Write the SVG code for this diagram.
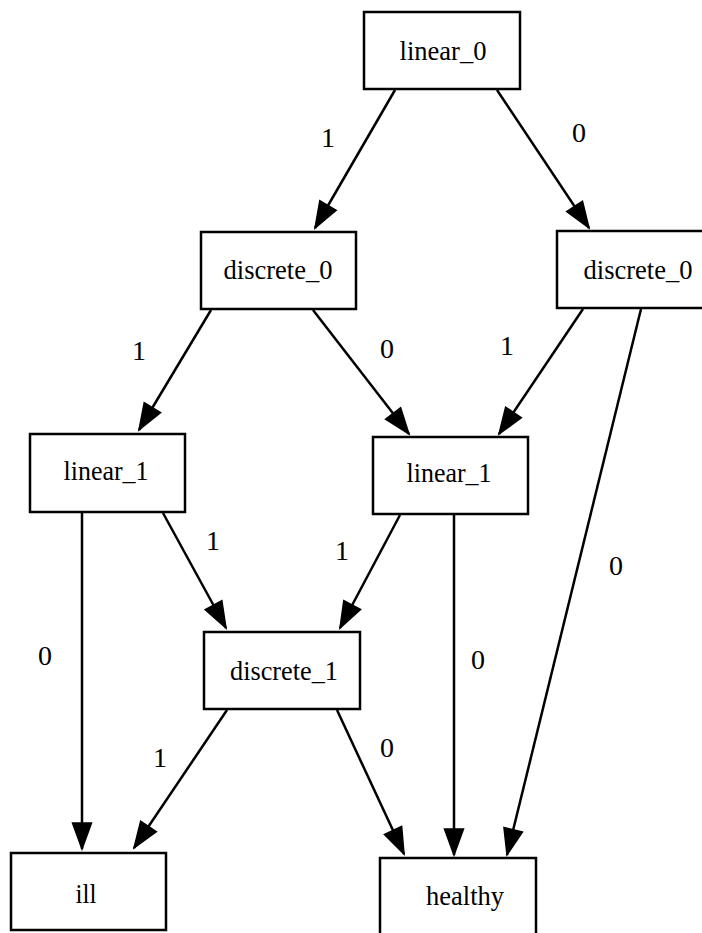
<svg xmlns="http://www.w3.org/2000/svg" width="702" height="933" viewBox="0 0 702 933">
  <style>
    .node rect { fill: #ffffff; stroke: #000000; stroke-width: 2.5; }
    text { font-family: 'Liberation Serif', 'DejaVu Serif', 'Times New Roman', serif; font-size: 28px; text-anchor: middle; fill: #000000; }
    .edge line { stroke: #000000; stroke-width: 2.5; marker-end: url(#arrow); }
  </style>
  <defs>
    <marker id="arrow" markerUnits="userSpaceOnUse" markerWidth="30" markerHeight="22" refX="26" refY="9.5" orient="auto" overflow="visible">
      <path d="M0,0 L26,9.5 L0,19 Z" fill="#000000" stroke="#000000" stroke-width="1.5"/>
    </marker>
  </defs>
  <rect x="0" y="0" width="702" height="933" fill="#ffffff"/>

  <!-- connectors -->
  <g id="edges" class="edge">
    <line x1="395" y1="90" x2="315" y2="228"/>
    <text x="328" y="147" font-family="Liberation Serif, serif">1</text>

    <line x1="497" y1="90" x2="589" y2="228"/>
    <text x="579" y="142" font-family="Liberation Serif, serif">0</text>

    <line x1="211" y1="310" x2="139" y2="430"/>
    <text x="139" y="360" font-family="Liberation Serif, serif">1</text>

    <line x1="313" y1="310" x2="409" y2="434"/>
    <text x="387" y="358" font-family="Liberation Serif, serif">0</text>

    <line x1="583" y1="309" x2="499" y2="434"/>
    <text x="507" y="355" font-family="Liberation Serif, serif">1</text>

    <line x1="641" y1="309" x2="507" y2="855"/>
    <text x="616" y="575" font-family="Liberation Serif, serif">0</text>

    <line x1="82" y1="513" x2="82" y2="849"/>
    <text x="45" y="665" font-family="Liberation Serif, serif">0</text>

    <line x1="163" y1="513" x2="226" y2="628"/>
    <text x="213" y="550" font-family="Liberation Serif, serif">1</text>

    <line x1="400" y1="515" x2="340" y2="628"/>
    <text x="342" y="560" font-family="Liberation Serif, serif">1</text>

    <line x1="454" y1="515" x2="454" y2="855"/>
    <text x="478" y="669" font-family="Liberation Serif, serif">0</text>

    <line x1="227" y1="710" x2="134" y2="848"/>
    <text x="160" y="767" font-family="Liberation Serif, serif">1</text>

    <line x1="337" y1="710" x2="404" y2="854"/>
    <text x="387" y="757" font-family="Liberation Serif, serif">0</text>
  </g>

  <!-- nodes -->
  <g id="linear_0" class="node">
    <rect x="364" y="12" width="156" height="77"/>
    <text x="443" y="60" font-family="Liberation Serif, serif" textLength="87" lengthAdjust="spacingAndGlyphs">linear_0</text>
  </g>
  <g id="discrete_0_left" class="node">
    <rect x="201" y="232" width="155" height="77"/>
    <text x="278" y="279" font-family="Liberation Serif, serif" textLength="109" lengthAdjust="spacingAndGlyphs">discrete_0</text>
  </g>
  <g id="discrete_0_right" class="node">
    <rect x="557" y="231" width="160" height="77"/>
    <text x="638" y="279" font-family="Liberation Serif, serif" textLength="109" lengthAdjust="spacingAndGlyphs">discrete_0</text>
  </g>
  <g id="linear_1_left" class="node">
    <rect x="30" y="434" width="155" height="78"/>
    <text x="106" y="480" font-family="Liberation Serif, serif" textLength="85" lengthAdjust="spacingAndGlyphs">linear_1</text>
  </g>
  <g id="linear_1_right" class="node">
    <rect x="373" y="437" width="155" height="77"/>
    <text x="449" y="482" font-family="Liberation Serif, serif" textLength="85" lengthAdjust="spacingAndGlyphs">linear_1</text>
  </g>
  <g id="discrete_1" class="node">
    <rect x="204" y="632" width="156" height="77"/>
    <text x="284" y="680" font-family="Liberation Serif, serif" textLength="108" lengthAdjust="spacingAndGlyphs">discrete_1</text>
  </g>
  <g id="ill" class="node">
    <rect x="11" y="853" width="155" height="77"/>
    <text x="86" y="903" font-family="Liberation Serif, serif" textLength="21" lengthAdjust="spacingAndGlyphs">ill</text>
  </g>
  <g id="healthy" class="node">
    <rect x="380" y="858" width="156" height="77"/>
    <text x="465" y="905" font-family="Liberation Serif, serif" textLength="78" lengthAdjust="spacingAndGlyphs">healthy</text>
  </g>
</svg>
